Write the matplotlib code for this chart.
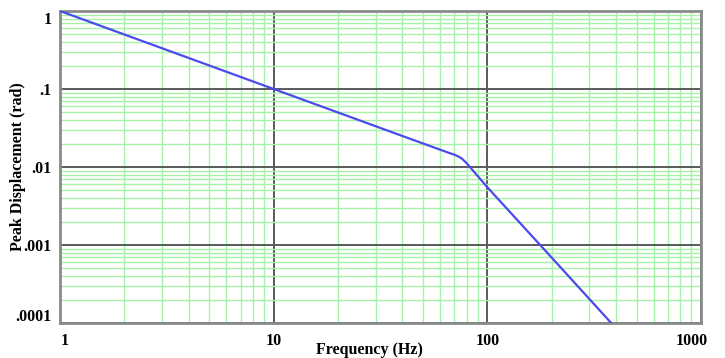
import matplotlib
matplotlib.use("Agg")
import matplotlib.pyplot as plt
import matplotlib.transforms as mtransforms
from matplotlib.ticker import LogLocator, NullFormatter

freq = [1, 10, 40, 66, 70, 73, 76, 80, 100, 200, 380]
disp = [1.0, 0.1, 0.025, 0.0152, 0.0144, 0.0137, 0.0128, 0.0112, 0.0055, 0.00069, 0.0001]

x_ticks = [1, 10, 100, 1000]
x_labels = ["1", "10", "100", "1000"]
y_ticks = [1, 0.1, 0.01, 0.001, 0.0001]
y_labels = ["1", ".1", ".01", ".001", ".0001"]

plt.rcParams['font.family'] = ['Liberation Serif', 'DejaVu Serif']
plt.rcParams['font.weight'] = 'bold'

fig = plt.figure(figsize=(7.25, 3.58), dpi=100)
ax = fig.add_axes([60/725, 1-323/358, (701-60)/725, (323-11)/358])
ax.set_xscale('log')
ax.set_yscale('log')
ax.set_xlim(1, 1000)
ax.set_ylim(0.0001, 1)

ax.xaxis.set_minor_locator(LogLocator(base=10, subs=range(2, 10), numticks=20))
ax.yaxis.set_minor_locator(LogLocator(base=10, subs=range(2, 10), numticks=20))
ax.xaxis.set_minor_formatter(NullFormatter())
ax.yaxis.set_minor_formatter(NullFormatter())
ax.grid(which='minor', color='#a6f2a6', linewidth=1.0)
ax.grid(which='major', color='#5a5a5a', linewidth=1.4)
ax.set_axisbelow(True)

ax.plot(freq, disp, color='#4a4aee', linewidth=1.6, zorder=3)

ax.set_xticks(x_ticks)
ax.set_xticklabels(x_labels, fontsize=11.5, fontweight='bold')
ax.set_yticks(y_ticks)
ax.set_yticklabels(y_labels, fontsize=11.5, fontweight='bold')
ax.tick_params(which='both', length=0, pad=7)
ax.tick_params(axis='y', pad=6)

xl = ax.get_xticklabels()
xl[0].set_transform(xl[0].get_transform() + mtransforms.ScaledTranslation(5/100, 0, fig.dpi_scale_trans))
xl[-1].set_transform(xl[-1].get_transform() + mtransforms.ScaledTranslation(-9/100, 0, fig.dpi_scale_trans))
yl = ax.get_yticklabels()
yl[0].set_transform(yl[0].get_transform() + mtransforms.ScaledTranslation(0, -7/100, fig.dpi_scale_trans))
yl[-1].set_transform(yl[-1].get_transform() + mtransforms.ScaledTranslation(0, 8/100, fig.dpi_scale_trans))

for s in ax.spines.values():
    s.set_color('#8a8a8a')
    s.set_linewidth(2)

fig.text(369/725, 1-350/358, "Frequency (Hz)", ha='center', va='center', fontsize=11.5, fontweight='bold')
fig.text(18/725, 1-167/358, "Peak Displacement (rad)", ha='center', va='center', rotation=90, fontsize=11.5, fontweight='bold')

fig.savefig("out.png", dpi=100)
